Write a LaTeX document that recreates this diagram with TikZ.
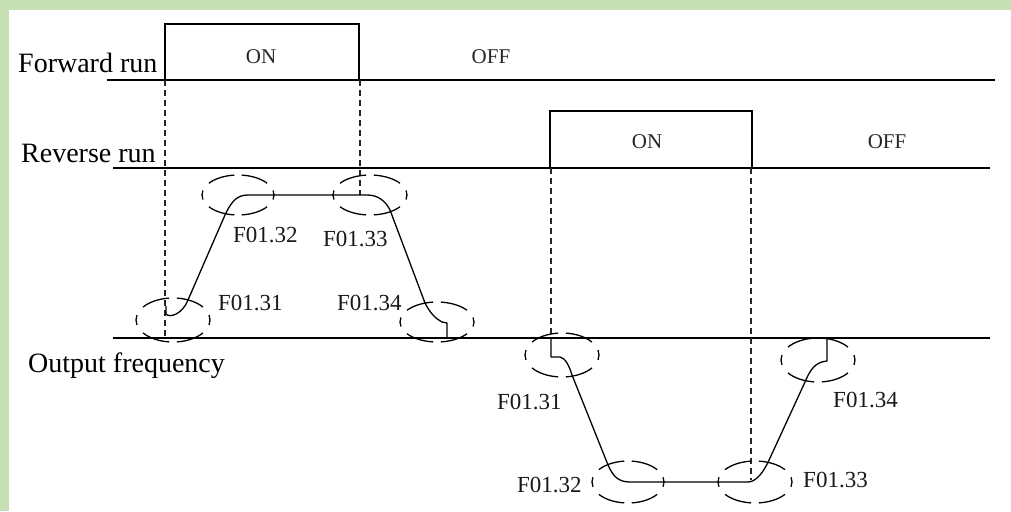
\documentclass[tikz,border=0pt]{standalone}
\usepackage{fontspec}
\setmainfont{Liberation Serif}
\definecolor{framegreen}{RGB}{198,224,180}
\newcommand\ringat[4]{%
  \foreach \a/\b in {-13/13, 36/84, 96/144, 167/193, 216/264, 276/324}
    \draw[ringline] (#1,#2) ++(\a:#3 and #4) arc[start angle=\a, end angle=\b, x radius=#3, y radius=#4];}
\begin{document}
\begin{tikzpicture}[x=1pt,y=-1pt,
  sig/.style={line width=1.8pt, line join=miter},
  guide/.style={line width=1.4pt, dash pattern=on 6pt off 4pt, draw=black!85},
  curve/.style={line width=1.3pt, line join=round},
  ringline/.style={line width=1.3pt},
  lab/.style={font=\fontsize{28}{30}\selectfont, inner sep=0pt, anchor=base west},
  st/.style={font=\fontsize{21}{24}\selectfont, inner sep=0pt, text=black!85},
  fl/.style={font=\fontsize{23}{25}\selectfont, inner sep=0pt, anchor=west, text=black!90}]
\fill[framegreen] (0,0) rectangle (1011,511);
\fill[white] (9,10) rectangle (1011,511);
\useasboundingbox (0,0) rectangle (1011,511);

% signal lines
\draw[sig] (107,80) -- (995,80);
\draw[sig] (165,80) -- (165,24) -- (359,24) -- (359,80);
\draw[sig] (113,168) -- (990,168);
\draw[sig] (550,168) -- (550,111) -- (752,111) -- (752,168);
\draw[sig] (113,338) -- (990,338);

% guides
\draw[guide] (165,80) -- (165,338);
\draw[guide] (360,80) -- (360,195);
\draw[guide] (551,168) -- (551,338);
\draw[guide] (751,168) -- (751,480);

% texts
\node[lab] (fwd) at (18,72) {Forward run};
\node[lab] (rev) at (21,162) {Reverse run};
\node[lab] (out) at (28,372) {Output frequency};
\node[st] (on1) at (261,57) {ON};
\node[st] (off1) at (491,57) {OFF};
\node[st] (on2) at (647,142) {ON};
\node[st] (off2) at (887,142) {OFF};

\node[fl] (f31a) at (218,303) {F01.31};
\node[fl] (f32a) at (233,235) {F01.32};
\node[fl] (f33a) at (323,239) {F01.33};
\node[fl] (f34a) at (337,303) {F01.34};
\node[fl] (f31b) at (497,402) {F01.31};
\node[fl] (f32b) at (517,485) {F01.32};
\node[fl] (f33b) at (803,480) {F01.33};
\node[fl] (f34b) at (833,400) {F01.34};

% forward frequency curve
\draw[curve] (166,306) -- (166,314) .. controls (169,318) and (182,315) .. (188,300)
  -- (225,215) .. controls (232,200) and (238,195) .. (248,195)
  -- (367,195) .. controls (377,195) and (385,200) .. (390,210)
  -- (425,303) .. controls (430,313) and (436,319) .. (442,322)
  -- (447,323) -- (447,338);

% reverse frequency curve
\draw[curve] (551,338) -- (551,357) -- (560,357) .. controls (565,358) and (569,365) .. (572,375)
  -- (608,465) .. controls (613,476) and (618,482) .. (630,482)
  -- (748,482) .. controls (756,482) and (764,472) .. (770,458)
  -- (805,382) .. controls (810,370) and (815,362) .. (827,361) -- (827,338);

% dashed ellipses
\ringat{173}{320}{37}{22}
\ringat{238}{195}{36}{20}
\ringat{370}{195}{37}{20}
\ringat{437}{322}{37}{20}
\ringat{562}{355}{37}{22}
\ringat{628}{482}{36}{21}
\ringat{755}{482}{37}{21}
\ringat{818}{360}{37}{22}
\end{tikzpicture}
\end{document}
